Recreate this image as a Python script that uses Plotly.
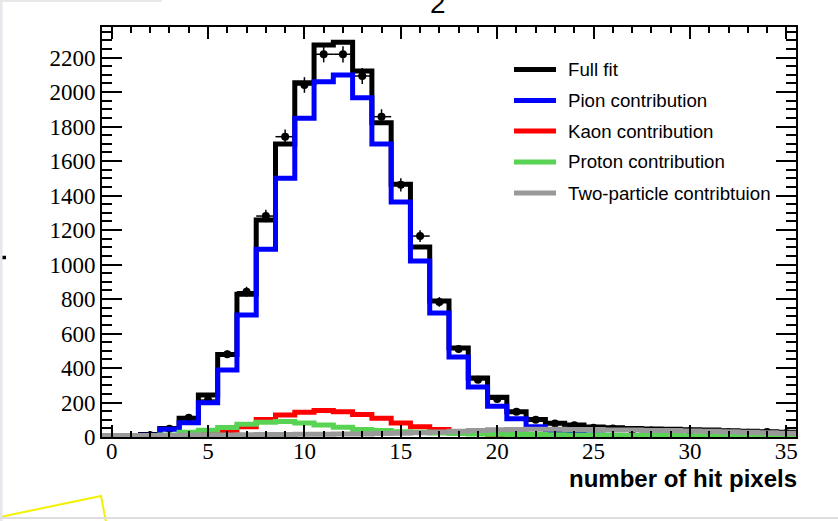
import numpy as np
import plotly.graph_objects as go

# bins: one per number of hit pixels, 0..35
bins = list(range(36))

data_counts = [None, None, 10, 48, 112, 214, 480, 842, 1281, 1741,
               2041, 2219, 2219, 2093, 1857, 1462, 1165, 783, 510, 332,
               220, 147, 100, 78, 68, 54, 50, 41, 37, 33,
               33, 29, 27, 25, 29, 22]

full_fit = [0, 3, 15, 50, 108, 243, 479, 827, 1258, 1699,
            2054, 2272, 2288, 2122, 1822, 1465, 1101, 788, 516, 342,
            230, 147, 102, 79, 70, 58, 54, 50, 47, 45,
            42, 40, 36, 33, 30, 27]

pion = [0, 2, 10, 45, 83, 199, 388, 707, 1088, 1500,
        1848, 2060, 2099, 1967, 1699, 1362, 1020, 719, 464, 290,
        178, 106, 60, 35, 22, 12, 7, 4, 2, 1,
        0, 0, 0, 0, 0, 0]

kaon = [0, 0, 1, 3, 8, 18, 31, 60, 102, 127,
        143, 153, 147, 131, 108, 81, 60, 44, 32, 22,
        15, 10, 7, 5, 3, 2, 1, 0, 0, 0,
        0, 0, 0, 0, 0, 0]

proton = [0, 1, 4, 12, 27, 39, 55, 74, 85, 90,
          81, 70, 57, 43, 37, 31, 27, 23, 20, 18,
          16, 15, 14, 13, 12, 11, 10, 9, 9, 8,
          7, 7, 6, 6, 5, 5]

two_particle = [8, 8, 9, 9, 10, 11, 12, 13, 14, 15,
                16, 16, 17, 18, 20, 22, 25, 29, 33, 38,
                42, 44, 45, 45, 44, 43, 41, 40, 38, 37,
                35, 33, 30, 27, 25, 22]

component_names = ["Full fit", "Pion contribution", "Kaon contribution",
                   "Proton contribution", "Two-particle contribtuion"]
component_values = [full_fit, pion, kaon, proton, two_particle]
component_colors = ["#000000", "#0000ff", "#ff0000", "#59d354", "#999999"]

x_ticks = list(range(0, 36, 5))
y_ticks = list(range(0, 2201, 200))

# frame geometry in pixels (page 838 x 521)
W, H = 838, 521
L, R, T, B = 102, 796, 27, 437


def px(xp):
    return (xp - L) / (R - L)


def py(yp):
    return (B - yp) / (B - T)


edges = [b - 0.5 for b in bins] + [bins[-1] + 0.5]

fig = go.Figure()

# measured counts with Poisson errors and bin-width horizontal bars
pts_x = [b for b, v in zip(bins, data_counts) if v is not None]
pts_y = [v for v in data_counts if v is not None]
fig.add_trace(go.Scatter(
    x=pts_x, y=pts_y, mode="markers",
    marker=dict(color="black", size=8),
    error_y=dict(type="data", array=list(np.sqrt(pts_y)), width=0,
                 thickness=1.5, color="black"),
    error_x=dict(type="constant", value=0.5, width=0, thickness=1.5,
                 color="black"),
    showlegend=False, hoverinfo="x+y"))

# fitted components as step histograms
for name, vals, col in zip(component_names, component_values, component_colors):
    fig.add_trace(go.Scatter(
        x=edges, y=list(vals) + [vals[-1]], mode="lines",
        line=dict(color=col, width=5, shape="hv"),
        name=name, showlegend=False))

shapes = []
annotations = []

# legend drawn by hand
legend_rows = [69.5, 100.5, 131, 162, 193]
for name, col, yr in zip(component_names, component_colors, legend_rows):
    shapes.append(dict(type="line", xref="paper", yref="paper",
                       x0=px(514), x1=px(556), y0=py(yr), y1=py(yr),
                       line=dict(color=col, width=5)))
    annotations.append(dict(xref="paper", yref="paper", x=px(566), y=py(yr),
                            xanchor="left", yanchor="middle", showarrow=False,
                            text=name,
                            font=dict(family="Liberation Sans", size=18.7,
                                      color="black")))

# x-axis title, right-aligned to the frame
annotations.append(dict(xref="paper", yref="paper", x=px(799), y=py(478),
                        xanchor="right", yanchor="middle", showarrow=False,
                        text="number of hit pixels",
                        font=dict(family="Liberation Sans", size=24,
                                  color="black", weight="bold")))

# title text, mostly above the top of the page
annotations.append(dict(xref="paper", yref="paper", x=px(438), y=py(21),
                        xanchor="center", yanchor="bottom", showarrow=False,
                        text="2",
                        font=dict(family="Liberation Sans", size=28,
                                  color="black")))

# stray marks around the canvas
shapes.append(dict(type="line", xref="paper", yref="paper",
                   x0=px(0), x1=px(6), y0=py(257.5), y1=py(257.5),
                   line=dict(color="black", width=3.5)))
shapes.append(dict(type="path", xref="paper", yref="paper",
                   path="M {} {} L {} {} L {} {}".format(px(0), py(517), px(101), py(496),
                                                        px(106), py(522)),
                   line=dict(color="#f2f200", width=2)))
shapes.append(dict(type="line", xref="paper", yref="paper",
                   x0=px(1), x1=px(1), y0=py(0), y1=py(521),
                   line=dict(color="#e6e6ec", width=3)))
shapes.append(dict(type="line", xref="paper", yref="paper",
                   x0=px(0), x1=px(838), y0=py(518), y1=py(518),
                   line=dict(color="#dedede", width=2)))
shapes.append(dict(type="line", xref="paper", yref="paper",
                   x0=px(0), x1=px(162), y0=py(1), y1=py(1),
                   line=dict(color="#e8e8e8", width=2)))

tick_font = dict(family="Liberation Serif", size=23, color="black")

fig.update_layout(
    width=W, height=H,
    margin=dict(l=L, r=W - R, t=T, b=H - B, pad=0),
    paper_bgcolor="white", plot_bgcolor="white",
    showlegend=False,
    shapes=shapes, annotations=annotations,
    xaxis=dict(range=[-0.5, 35.5], tickvals=x_ticks, ticks="inside",
               ticklen=12, tickwidth=1.5, tickcolor="black",
               ticklabelstandoff=-8,
               minor=dict(dtick=1, tick0=0, ticks="inside", ticklen=6,
                          tickwidth=1.5, tickcolor="black"),
               showline=True, linecolor="black", linewidth=2, mirror="ticks",
               showgrid=False, zeroline=False, tickfont=tick_font),
    yaxis=dict(range=[0, 2377], tickvals=y_ticks, ticks="inside",
               ticklen=20, tickwidth=1.5, tickcolor="black",
               minor=dict(dtick=50, tick0=0, ticks="inside", ticklen=10,
                          tickwidth=1.5, tickcolor="black"),
               showline=True, linecolor="black", linewidth=2, mirror="ticks",
               showgrid=False, zeroline=False, tickfont=tick_font),
)

fig.write_html("out.html")
